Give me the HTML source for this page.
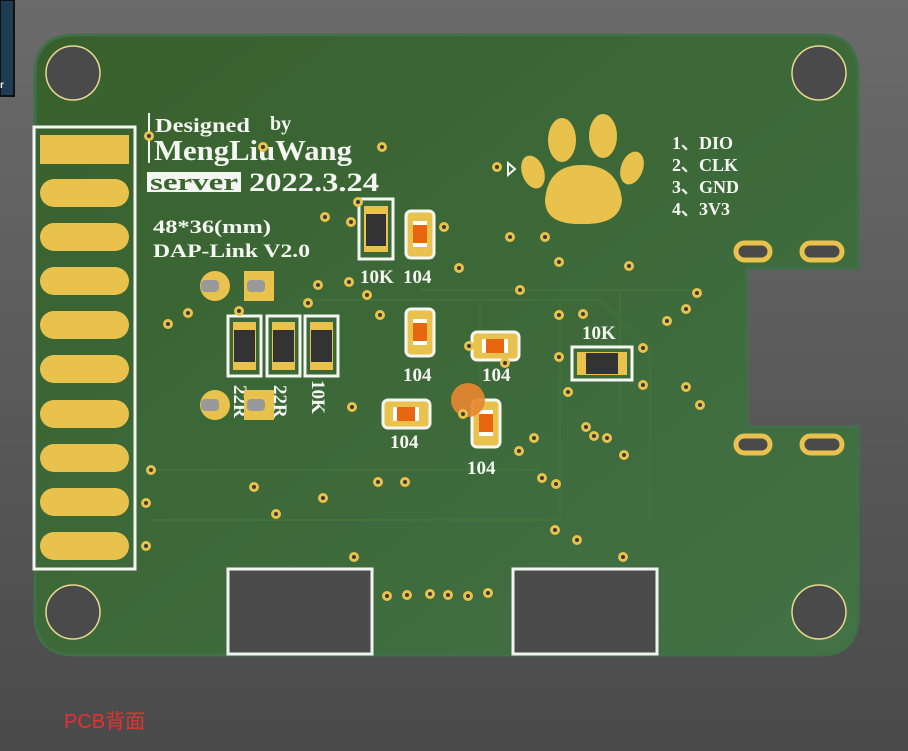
<!DOCTYPE html>
<html><head><meta charset="utf-8"><style>
html,body{margin:0;padding:0;width:908px;height:751px;overflow:hidden;}
body{background:linear-gradient(#6b6b6b,#4a4a4a);}
text{font-family:"Liberation Serif",serif;font-weight:bold;fill:#f4f6f2;}
</style></head><body>
<svg width="908" height="751" viewBox="0 0 908 751" xmlns="http://www.w3.org/2000/svg">
<defs>
<linearGradient id="g" x1="0" y1="0" x2="1" y2="1"><stop offset="0" stop-color="#38602c"/><stop offset="1" stop-color="#427246"/></linearGradient>
</defs>
<rect x="0" y="0" width="14" height="96" fill="#1f3c55" stroke="#111" stroke-width="2"/>
<text x="0" y="88" style="font-family:'Liberation Sans'" font-size="10">r</text>
<path d="M75 35 H820 Q858 35 858 75 V268 H747 V427 H858 V615 Q858 655 820 655 H75 Q35 655 35 615 V75 Q35 35 75 35 Z" fill="url(#g)" stroke="#3f7048" stroke-width="3"/>
<g stroke="#467a3a" stroke-width="2" fill="none" opacity="0.5">
<path d="M150 520 H560 V300 M150 470 H540 M300 300 H600 L650 350 V520 M420 290 H700 M480 300 V450 M620 290 V420"/>
</g>
<g fill="#4a4a4a" stroke="#e8d890" stroke-width="1.5">
<circle cx="73" cy="73" r="27"/><circle cx="819" cy="73" r="27"/>
<circle cx="73" cy="612" r="27"/><circle cx="819" cy="612" r="27"/>
</g>
<rect x="228" y="569" width="144" height="85" fill="#4b4b4b" stroke="#f0f4f0" stroke-width="3"/>
<rect x="513" y="569" width="144" height="85" fill="#4b4b4b" stroke="#f0f4f0" stroke-width="3"/>
<rect x="34" y="127" width="101" height="442" fill="none" stroke="#f4f6f2" stroke-width="3"/>
<rect x="40" y="135" width="89" height="29" fill="#e8c24d"/>
<g fill="#e8c24d">
<rect x="40" y="179" width="89" height="28" rx="14"/><rect x="40" y="223" width="89" height="28" rx="14"/>
<rect x="40" y="267" width="89" height="28" rx="14"/><rect x="40" y="311" width="89" height="28" rx="14"/>
<rect x="40" y="355" width="89" height="28" rx="14"/><rect x="40" y="400" width="89" height="28" rx="14"/>
<rect x="40" y="444" width="89" height="28" rx="14"/><rect x="40" y="488" width="89" height="28" rx="14"/>
<rect x="40" y="532" width="89" height="28" rx="14"/>
</g>
<rect x="148" y="113" width="2" height="50" fill="#f4f6f2"/>
<text x="155" y="132" font-size="20" textLength="95" lengthAdjust="spacingAndGlyphs">Designed</text>
<text x="270" y="130" font-size="20">by</text>
<text x="154" y="160" font-size="28" textLength="198" lengthAdjust="spacingAndGlyphs">MengLiuWang</text>
<rect x="147" y="172" width="94" height="20" fill="#f4f6f2"/>
<text x="150" y="190" font-size="24" style="fill:#3a652e" textLength="88" lengthAdjust="spacingAndGlyphs">server</text>
<text x="249" y="191" font-size="26" textLength="130" lengthAdjust="spacingAndGlyphs">2022.3.24</text>
<text x="153" y="233" font-size="19" textLength="118" lengthAdjust="spacingAndGlyphs">48*36(mm)</text>
<text x="153" y="257" font-size="19" textLength="157" lengthAdjust="spacingAndGlyphs">DAP-Link V2.0</text>
<text x="672" y="149" font-size="18">1、DIO</text>
<text x="672" y="171" font-size="18">2、CLK</text>
<text x="672" y="193" font-size="18">3、GND</text>
<text x="672" y="215" font-size="18">4、3V3</text>
<path d="M508 163 l7 6 l-7 6z" fill="none" stroke="#f4f6f2" stroke-width="2"/>
<g fill="#e8c24d">
<ellipse cx="562" cy="140" rx="14" ry="22"/><ellipse cx="603" cy="136" rx="14" ry="22"/>
<ellipse cx="533" cy="172" rx="11" ry="17" transform="rotate(-20 533 172)"/><ellipse cx="632" cy="168" rx="11" ry="17" transform="rotate(20 632 168)"/>
<path d="M545 200 Q548 165 582 165 Q618 165 622 200 Q620 225 582 224 Q545 225 545 200Z"/>
</g>
<g>
<rect x="359" y="199" width="34" height="60" fill="none" stroke="#f4f6f2" stroke-width="3"/>
<rect x="364" y="206" width="24" height="46" fill="#e8c24d"/><rect x="366" y="214" width="20" height="32" fill="#333"/>
<rect x="228" y="316" width="33" height="60" fill="none" stroke="#f4f6f2" stroke-width="3"/>
<rect x="233" y="322" width="23" height="48" fill="#e8c24d"/><rect x="234" y="330" width="21" height="32" fill="#333"/>
<rect x="267" y="316" width="33" height="60" fill="none" stroke="#f4f6f2" stroke-width="3"/>
<rect x="272" y="322" width="23" height="48" fill="#e8c24d"/><rect x="273" y="330" width="21" height="32" fill="#333"/>
<rect x="305" y="316" width="33" height="60" fill="none" stroke="#f4f6f2" stroke-width="3"/>
<rect x="310" y="322" width="23" height="48" fill="#e8c24d"/><rect x="311" y="330" width="21" height="32" fill="#333"/>
<rect x="572" y="347" width="60" height="33" fill="none" stroke="#f4f6f2" stroke-width="3"/>
<rect x="577" y="352" width="50" height="23" fill="#e8c24d"/><rect x="586" y="353" width="32" height="21" fill="#333"/>
</g>
<g stroke="#f4f6f2" stroke-width="3">
<rect x="406" y="211" width="28" height="47" rx="5" fill="#e8c24d"/><rect x="406" y="309" width="28" height="47" rx="5" fill="#e8c24d"/>
<rect x="472" y="400" width="28" height="47" rx="5" fill="#e8c24d"/>
<rect x="472" y="332" width="47" height="28" rx="5" fill="#e8c24d"/><rect x="383" y="400" width="47" height="28" rx="5" fill="#e8c24d"/>
</g>
<g fill="#fff">
<rect x="413" y="221" width="14" height="26"/><rect x="413" y="319" width="14" height="26"/><rect x="479" y="410" width="14" height="26"/>
<rect x="482" y="339" width="26" height="14"/><rect x="393" y="407" width="26" height="14"/>
</g>
<g fill="#e8660f">
<rect x="413" y="225" width="14" height="18"/><rect x="413" y="323" width="14" height="18"/><rect x="479" y="414" width="14" height="18"/>
<rect x="486" y="339" width="18" height="14"/><rect x="397" y="407" width="18" height="14"/>
</g>
<circle cx="468" cy="400" r="17" fill="#e8862f" opacity="0.9"/>
<text x="360" y="283" font-size="19">10K</text>
<text x="403" y="283" font-size="19">104</text>
<text x="403" y="381" font-size="19">104</text>
<text x="482" y="381" font-size="19">104</text>
<text x="390" y="448" font-size="19">104</text>
<text x="467" y="474" font-size="19">104</text>
<text x="582" y="339" font-size="19">10K</text>
<text font-size="19" transform="translate(234 385) rotate(90)">22R</text>
<text font-size="19" transform="translate(274 385) rotate(90)">22R</text>
<text font-size="19" transform="translate(312 380) rotate(90)">10K</text>
<circle cx="215" cy="286" r="15" fill="#e8c24d"/><rect x="244" y="271" width="30" height="30" fill="#e8c24d"/>
<circle cx="215" cy="405" r="15" fill="#e8c24d"/><rect x="244" y="390" width="30" height="30" fill="#e8c24d"/>
<g fill="#999"><rect x="201" y="280" width="18" height="12" rx="4"/><rect x="247" y="280" width="18" height="12" rx="4"/><rect x="201" y="399" width="18" height="12" rx="4"/><rect x="247" y="399" width="18" height="12" rx="4"/></g>
<g fill="#4a4a4a" stroke="#e8c24d" stroke-width="5">
<rect x="736" y="243" width="34" height="17" rx="8.5"/><rect x="802" y="243" width="40" height="17" rx="8.5"/>
<rect x="736" y="436" width="34" height="17" rx="8.5"/><rect x="802" y="436" width="40" height="17" rx="8.5"/>
</g>
<g fill="#3a3a3a" stroke="#e8c24d" stroke-width="3">
<circle cx="149" cy="136" r="3.5"/><circle cx="263" cy="147" r="3.5"/><circle cx="382" cy="147" r="3.5"/>
<circle cx="358" cy="202" r="3.5"/><circle cx="325" cy="217" r="3.5"/><circle cx="351" cy="222" r="3.5"/><circle cx="444" cy="227" r="3.5"/>
<circle cx="318" cy="285" r="3.5"/><circle cx="349" cy="282" r="3.5"/><circle cx="367" cy="295" r="3.5"/><circle cx="380" cy="315" r="3.5"/>
<circle cx="308" cy="303" r="3.5"/><circle cx="188" cy="313" r="3.5"/><circle cx="168" cy="324" r="3.5"/><circle cx="239" cy="311" r="3.5"/>
<circle cx="459" cy="268" r="3.5"/><circle cx="510" cy="237" r="3.5"/><circle cx="545" cy="237" r="3.5"/><circle cx="520" cy="290" r="3.5"/>
<circle cx="629" cy="266" r="3.5"/><circle cx="559" cy="262" r="3.5"/><circle cx="497" cy="167" r="3.5"/>
<circle cx="559" cy="315" r="3.5"/><circle cx="583" cy="314" r="3.5"/><circle cx="559" cy="357" r="3.5"/>
<circle cx="697" cy="293" r="3.5"/><circle cx="686" cy="309" r="3.5"/><circle cx="667" cy="321" r="3.5"/><circle cx="643" cy="348" r="3.5"/>
<circle cx="643" cy="385" r="3.5"/><circle cx="686" cy="387" r="3.5"/><circle cx="700" cy="405" r="3.5"/>
<circle cx="469" cy="346" r="3.5"/><circle cx="505" cy="363" r="3.5"/><circle cx="352" cy="407" r="3.5"/><circle cx="463" cy="414" r="3.5"/>
<circle cx="586" cy="427" r="3.5"/><circle cx="594" cy="436" r="3.5"/><circle cx="607" cy="438" r="3.5"/><circle cx="624" cy="455" r="3.5"/>
<circle cx="534" cy="438" r="3.5"/><circle cx="519" cy="451" r="3.5"/><circle cx="542" cy="478" r="3.5"/><circle cx="556" cy="484" r="3.5"/>
<circle cx="378" cy="482" r="3.5"/><circle cx="405" cy="482" r="3.5"/><circle cx="254" cy="487" r="3.5"/><circle cx="323" cy="498" r="3.5"/>
<circle cx="276" cy="514" r="3.5"/><circle cx="151" cy="470" r="3.5"/><circle cx="146" cy="503" r="3.5"/><circle cx="146" cy="546" r="3.5"/>
<circle cx="555" cy="530" r="3.5"/><circle cx="577" cy="540" r="3.5"/><circle cx="623" cy="557" r="3.5"/><circle cx="354" cy="557" r="3.5"/>
<circle cx="387" cy="596" r="3.5"/><circle cx="407" cy="595" r="3.5"/><circle cx="430" cy="594" r="3.5"/><circle cx="448" cy="595" r="3.5"/>
<circle cx="468" cy="596" r="3.5"/><circle cx="488" cy="593" r="3.5"/><circle cx="568" cy="392" r="3.5"/>
</g>
<text x="64" y="728" style="font-family:'Liberation Sans','Noto Sans CJK SC',sans-serif;font-weight:normal;fill:#e83030" font-size="20">PCB背面</text>
</svg>
</body></html>
